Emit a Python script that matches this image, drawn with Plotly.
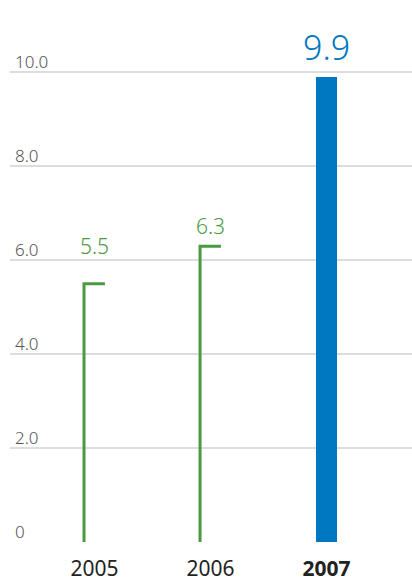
import plotly.graph_objects as go

years = ["2005", "2006", "2007"]
values = [5.5, 6.3, 9.9]
highlight = [False, False, True]
y_ticks = [0, 2, 4, 6, 8, 10]
y_tick_labels = ["0", "2.0", "4.0", "6.0", "8.0", "10.0"]

GREEN = "#4a9a42"
BLUE = "#0077c1"
FONT = "Noto Sans"
W = 0.18
label_shift = [38, 20, 30]
label_size = [21, 21, 34]

fig = go.Figure()
xs = list(range(len(years)))

for i, (v, h) in enumerate(zip(values, highlight)):
    if h:
        fig.add_trace(go.Bar(x=[i], y=[v], width=W, marker=dict(color=BLUE, line=dict(width=0)),
                             hoverinfo="skip", showlegend=False))
    else:
        fig.add_trace(go.Scatter(x=[i - W / 2, i - W / 2, i + W / 2], y=[0, v, v], mode="lines",
                                 line=dict(color=GREEN, width=3), hoverinfo="skip", showlegend=False))
    fig.add_annotation(x=i, y=v, xref="x", yref="y", text=f"{v:.1f}", showarrow=False,
                       yanchor="middle", xanchor="center", yshift=label_shift[i],
                       font=dict(family=FONT, size=label_size[i], weight=300,
                                 color=BLUE if h else GREEN))

for t, lab in zip(y_ticks, y_tick_labels):
    fig.add_annotation(x=0, y=t, xref="paper", yref="y", text=lab, showarrow=False,
                       xanchor="left", yanchor="bottom", xshift=3, yshift=-3,
                       font=dict(family=FONT, size=17, weight=300, color="#555555"))

ticktext = [f"<b>{y}</b>" if h else y for y, h in zip(years, highlight)]

fig.update_layout(
    width=412, height=582,
    margin=dict(l=10, r=0, t=2, b=40),
    paper_bgcolor="white", plot_bgcolor="white",
    font=dict(family=FONT),
    xaxis=dict(range=[-0.728, 2.737], tickvals=xs, ticktext=ticktext, showgrid=False,
               zeroline=False, showline=False, ticks="", ticklabelstandoff=12,
               tickfont=dict(family=FONT, size=21, color="#222222")),
    yaxis=dict(range=[0, 11.5], tickvals=y_ticks, showticklabels=False, showgrid=True,
               gridcolor="#dddddd", gridwidth=2, zeroline=False, showline=False),
    bargap=0,
)

fig.write_html("out.html")
